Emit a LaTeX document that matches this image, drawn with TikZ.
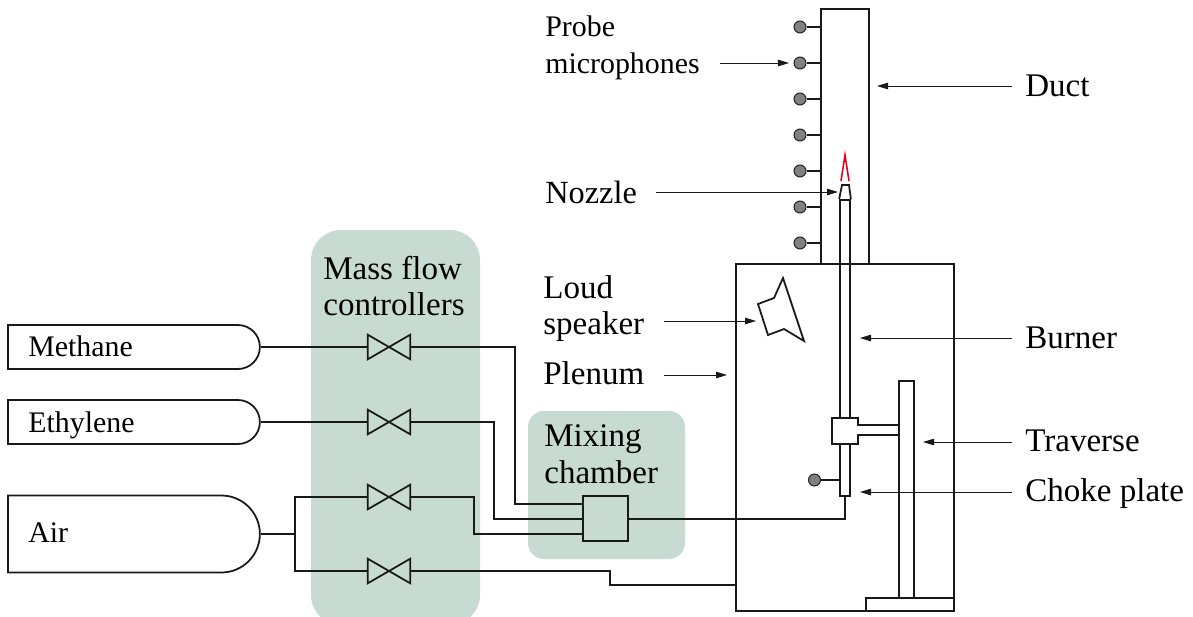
\documentclass[tikz,border=0pt]{standalone}
\usepackage{fontspec}
\setmainfont{Liberation Serif}
\usetikzlibrary{arrows.meta,positioning,shapes.misc}
\def\u{0.02cm}
\definecolor{panelgreen}{HTML}{C8DBD2}
\definecolor{micgray}{HTML}{808080}
\definecolor{flamered}{HTML}{E2001A}
\tikzset{
  part/.style={draw=black!90, line width=1pt, inner sep=0pt},
  pipe/.style={draw=black!90, line width=1pt},
  lead/.style={draw=black!90, line width=0.5pt, -{Triangle[length=2.2mm,width=1.3mm]}},
  panel/.style={fill=panelgreen, rounded corners=#1},
  mic/.style={circle, draw=black!85, fill=micgray, line width=0.6pt, inner sep=0pt, minimum size=12*\u},
  tag/.style={font=\fontsize{18.8}{21}\selectfont, align=left, inner sep=0pt, anchor=west},
  tanktag/.style={font=\fontsize{17}{20}\selectfont, anchor=west, inner sep=0pt},
  tank/.style={part, rounded rectangle, rounded rectangle west arc=none, minimum width=252*\u, anchor=west},
  valve/.style={inner sep=0pt, minimum width=42*\u, minimum height=24*\u}
}
\begin{document}
\begin{tikzpicture}[x=\u, y=-\u]
  \useasboundingbox (0,0) rectangle (1193,616);
  % green panels behind the piping
  \begin{scope}
    \clip (0,0) rectangle (1193,616);
    \fill[panel=30*\u] (311,230) rectangle (480,625);
  \end{scope}
  \fill[panel=16*\u] (528,411) rectangle (685,559);

  % supply tanks
  \node[tank, minimum height=44*\u] (methane) at (7,347) {};
  \node[tank, minimum height=44*\u] (ethylene) at (7,422) {};
  \node[tank, minimum height=77*\u] (air) at (7,534) {};
  \node[tanktag] (lmethane) at (28,346) {Methane};
  \node[tanktag] (lethylene) at (28,425) {Ethylene};
  \node[tanktag] (lair) at (28,533) {Air};

  % valves
  \foreach \name/\ypos in {vmethane/347, vethylene/422, vair/497, vbypass/571} {
    \node[valve] (\name) at (389,\ypos) {};
    \draw[pipe] (\name.south west) -- (\name.north east) -- (\name.south east)
      -- (\name.north west) -- cycle;
  }

  % main boxes
  \node[part, minimum width=45*\u, minimum height=45*\u] (mixer) at (605.5,518.5) {};
  \node[part, minimum width=48*\u, minimum height=255*\u] (duct) at (845,136.5) {};
  \node[part, minimum width=218*\u, minimum height=347*\u] (plenum) at (845,437.5) {};
  \node[part, minimum width=10*\u, minimum height=296*\u] (burner) at (845,348) {};
  \node[part, minimum width=15*\u, minimum height=217*\u] (post) at (906.5,489.5) {};
  \node[part, minimum width=88*\u, minimum height=13*\u] (base) at (910,604.5) {};
  \node[fill=white, inner sep=0pt, minimum width=26*\u, minimum height=26*\u] (clamp) at (845,431) {};

  % nozzle, flame, clamp outline, speaker
  \draw[pipe] (burner.north west) -- (842,185) -- (849,185) -- (burner.north east);
  \draw[flamered, line width=0.9pt] (841,181) -- (845,155) -- (849,181);
  \draw[pipe] (post.west |- 0,425) -- (clamp.east |- 0,425) -- (clamp.north east)
    -- (clamp.north west) -- (clamp.south west) -- (clamp.south east)
    -- (clamp.east |- 0,435) -- (post.west |- 0,435);
  \draw[pipe] (783,278) -- (804,341) -- (784,329) -- (768,335) -- (758,304) -- (774,298) -- cycle;
  \coordinate (speaker) at (756,321);

  % microphones
  \foreach \i/\ypos in {1/27, 2/63, 3/99, 4/135, 5/171, 6/207, 7/243} {
    \node[mic] (mic\i) at (800,\ypos) {};
    \draw[pipe] (mic\i.east) -- (duct.west |- mic\i);
  }
  \node[mic] (mic8) at (814.5,480) {};
  \draw[pipe] (mic8.east) -- (burner.west |- mic8);

  % piping
  \draw[pipe] (methane.east) -- (vmethane.west);
  \draw[pipe] (ethylene.east) -- (vethylene.west);
  \draw[pipe] (air.east) -- (295,534);
  \draw[pipe] (vair.west) -| (295,571) -- (vbypass.west);
  \draw[pipe] (vmethane.east) -| (515,504) -- (mixer.west |- 0,504);
  \draw[pipe] (vethylene.east) -| (494,519) -- (mixer.west |- 0,519);
  \draw[pipe] (vair.east) -| (474,534) -- (mixer.west |- 0,534);
  \draw[pipe] (vbypass.east) -| (610,585) -- (plenum.west |- 0,585);
  \draw[pipe] (mixer.east |- 0,519) -| (burner.south);

  % labels
  \node[tag] (lmass) at (323,286) {Mass flow\\controllers};
  \node[tag] (lmixing) at (544,454.5) {Mixing\\chamber};
  \node[tag, font=\fontsize{17}{21}\selectfont] (lprobe) at (545,48) {Probe\\microphones};
  \node[tag, font=\fontsize{18.4}{21}\selectfont] (lnozzle) at (545,192) {Nozzle};
  \node[tag] (lloud) at (543,308.5) {Loud\\speaker};
  \node[tag] (lplenum) at (543,373) {Plenum};
  \node[tag] (lduct) at (1025,86) {Duct};
  \node[tag] (lburner) at (1025,338) {Burner};
  \node[tag] (ltraverse) at (1025,441) {Traverse};
  \node[tag] (lchoke) at (1025,494) {Choke plate};

  % leader arrows
  \draw[lead, shorten <=20*\u, shorten >=4.5*\u] (lprobe.east |- mic2) -- (mic2.west);
  \draw[lead, shorten <=19*\u] (lnozzle.east |- 0,192) -- (838,192);
  \draw[lead, shorten <=19*\u] (lloud.east |- 0,321) -- (speaker);
  \draw[lead, shorten <=19*\u] (lplenum.east |- 0,375) -- (727,375);
  \draw[lead, shorten <=13*\u] (lduct.west |- 0,86) -- (877,86);
  \draw[lead, shorten <=13*\u] (lburner.west |- 0,338) -- (860,338);
  \draw[lead, shorten <=13*\u] (ltraverse.west |- 0,442) -- (923,442);
  \draw[lead, shorten <=13*\u] (lchoke.west |- 0,492) -- (860,492);
\end{tikzpicture}
\end{document}
